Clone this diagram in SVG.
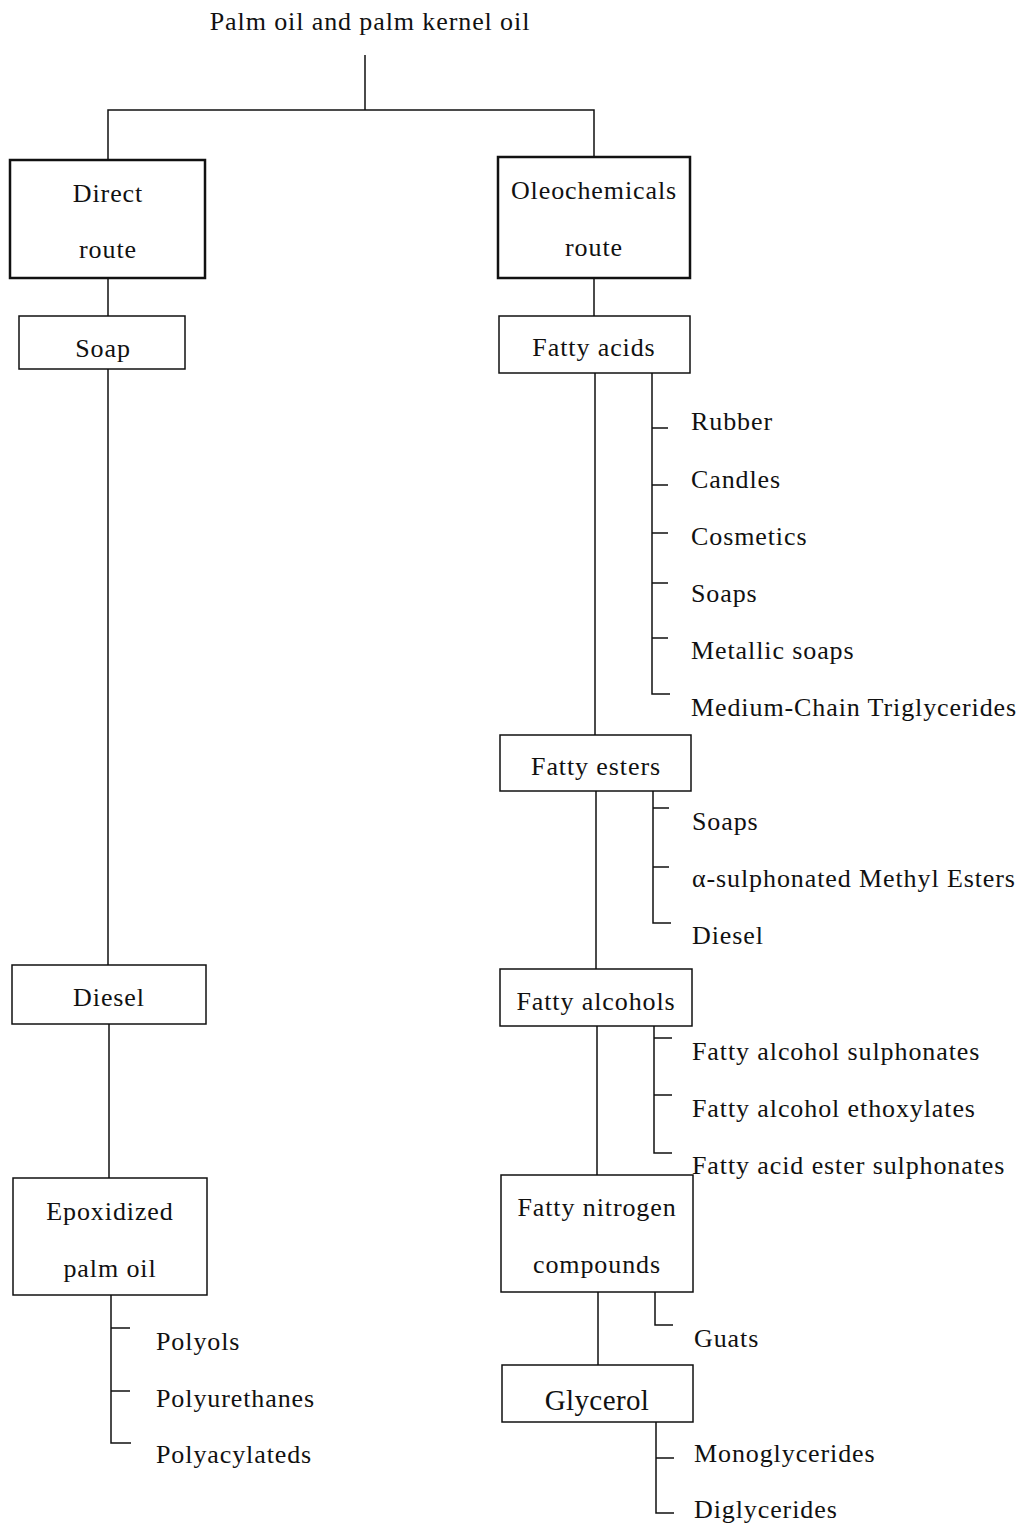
<svg xmlns="http://www.w3.org/2000/svg" width="1028" height="1526" viewBox="0 0 1028 1526">
<style>
text{font-family:"Liberation Serif","Times New Roman",serif;font-size:26px;letter-spacing:0.9px;fill:#111}
.c{text-anchor:middle}
.box{fill:#fff;stroke:#111;stroke-width:1.5}
.bold{stroke-width:2.5}
.ln{fill:none;stroke:#111;stroke-width:1.5}
</style>
<rect width="1028" height="1526" fill="#fff"/>
<g id="connectors">
<path class="ln" d="M365,55V110M108,160V110H594V157"/>
<path class="ln" d="M108,278V316M108,369V965M109,1024V1178"/>
<path class="ln" d="M111,1295V1443H131M111,1328H130M111,1391H130"/>
<path class="ln" d="M594,278V316M595,373V735M596,791V969M597,1026V1175M598,1292V1365"/>
<path class="ln" d="M652,373V694H670M652,428H668M652,485H668M652,533H668M652,583H668M652,638H668"/>
<path class="ln" d="M653,791V923H671M653,808H669M653,867H669"/>
<path class="ln" d="M654,1026V1153H672M654,1038H672M654,1095H672"/>
<path class="ln" d="M655,1292V1325H673"/>
<path class="ln" d="M656,1422V1513H674M656,1458H674"/>
</g>
<g id="title"><text class="c" x="370" y="30">Palm oil and palm kernel oil</text></g>
<g id="direct"><rect class="box bold" x="10" y="160" width="195" height="118"/><text class="c" x="108" y="202">Direct</text><text class="c" x="108" y="258">route</text></g>
<g id="oleo"><rect class="box bold" x="498" y="157" width="192" height="121"/><text class="c" x="594" y="199">Oleochemicals</text><text class="c" x="594" y="256">route</text></g>
<g id="soap"><rect class="box" x="19" y="316" width="166" height="53"/><text class="c" x="103" y="357">Soap</text></g>
<g id="diesel-left"><rect class="box" x="12" y="965" width="194" height="59"/><text class="c" x="109" y="1006">Diesel</text></g>
<g id="epox"><rect class="box" x="13" y="1178" width="194" height="117"/><text class="c" x="110" y="1220">Epoxidized</text><text class="c" x="110" y="1277">palm oil</text></g>
<g id="epox-products">
<text x="156" y="1350">Polyols</text>
<text x="156" y="1407">Polyurethanes</text>
<text x="156" y="1463">Polyacylateds</text>
</g>
<g id="fatty-acids"><rect class="box" x="499" y="316" width="191" height="57"/><text class="c" x="594" y="356">Fatty acids</text></g>
<g id="fatty-acids-products">
<text x="691" y="430">Rubber</text>
<text x="691" y="488">Candles</text>
<text x="691" y="545">Cosmetics</text>
<text x="691" y="602">Soaps</text>
<text x="691" y="659">Metallic soaps</text>
<text x="691" y="716">Medium-Chain Triglycerides</text>
</g>
<g id="fatty-esters"><rect class="box" x="500" y="735" width="191" height="56"/><text class="c" x="596" y="775">Fatty esters</text></g>
<g id="fatty-esters-products">
<text x="692" y="830">Soaps</text>
<text x="692" y="887">α-sulphonated Methyl Esters</text>
<text x="692" y="944">Diesel</text>
</g>
<g id="fatty-alcohols"><rect class="box" x="500" y="969" width="192" height="57"/><text class="c" x="596" y="1010">Fatty alcohols</text></g>
<g id="fatty-alcohols-products">
<text x="692" y="1060">Fatty alcohol sulphonates</text>
<text x="692" y="1117">Fatty alcohol ethoxylates</text>
<text x="692" y="1174">Fatty acid ester sulphonates</text>
</g>
<g id="fatty-nitrogen"><rect class="box" x="501" y="1175" width="192" height="117"/><text class="c" x="597" y="1216">Fatty nitrogen</text><text class="c" x="597" y="1273">compounds</text></g>
<g id="guats"><text x="694" y="1347">Guats</text></g>
<g id="glycerol"><rect class="box" x="502" y="1365" width="191" height="57"/><text class="c" x="597" y="1410" style="font-size:29px;letter-spacing:0.4px">Glycerol</text></g>
<g id="glycerol-products">
<text x="694" y="1462">Monoglycerides</text>
<text x="694" y="1518">Diglycerides</text>
</g>
</svg>
